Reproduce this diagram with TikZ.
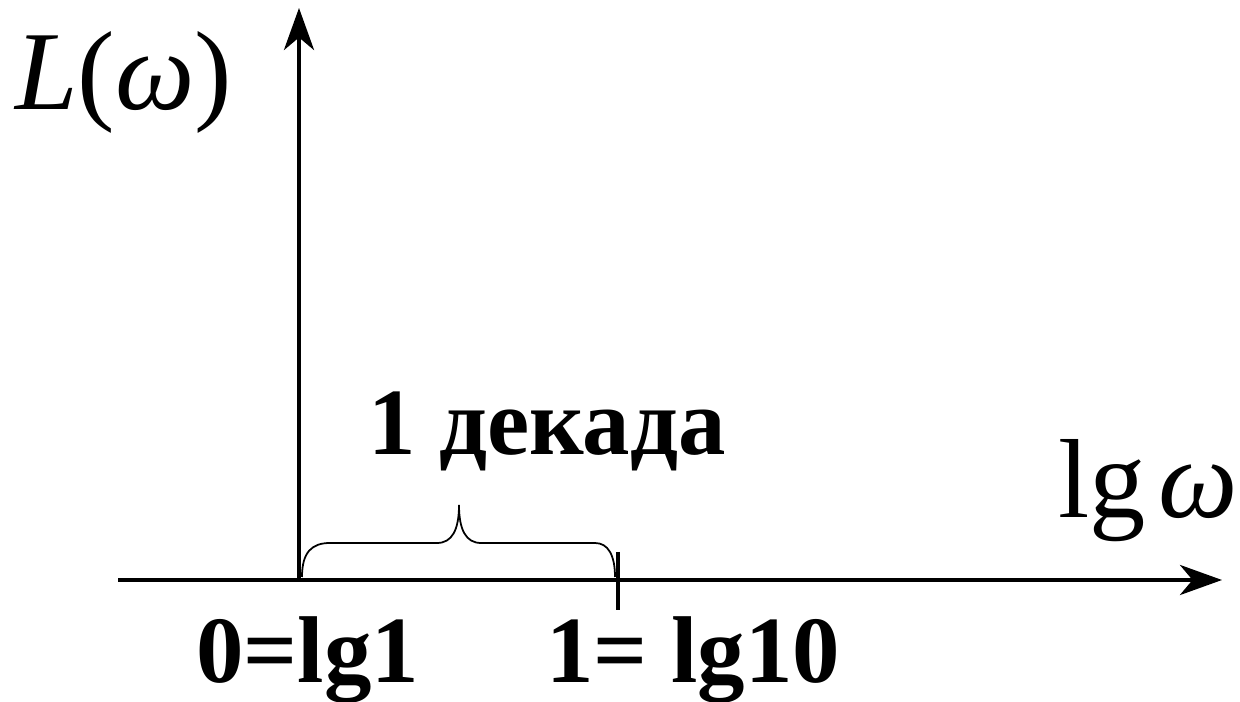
\documentclass[tikz,border=0pt]{standalone}
\usepackage{fontspec}
\setmainfont{Liberation Serif}
\usetikzlibrary{arrows.meta}

\begin{document}
\begin{tikzpicture}[x=0.02cm, y=0.02cm,
  ax/.style={line width=2.6pt, -{Stealth[length=0.84cm, width=0.6cm, inset=0.25cm]}},
  lbl/.style={anchor=base west, inner sep=0pt, font=\fontsize{64}{70}\selectfont},
  blbl/.style={anchor=base west, inner sep=0pt, font=\fontsize{54}{60}\selectfont\bfseries}]
\useasboundingbox (0,0) rectangle (1240,702);
\coordinate (O) at (299,122);
\coordinate (X0) at (118,122);
\coordinate (X1) at (1222,122);
\coordinate (Y1) at (299,694);
\coordinate (T0) at (618,150);
\coordinate (T1) at (618,92);
\draw[ax] (X0) -- (X1);
\draw[ax] (O) -- (Y1);
\draw[line width=2.4pt] (T0) -- (T1);
\draw[line width=1pt] (302,125) .. controls (302,150) and (312,159) .. (330,159) -- (437,159)
  .. controls (452,159) and (459,172) .. (459,197) .. controls (459,172) and (466,159) .. (481,159)
  -- (595,159) .. controls (608,159) and (615,147) .. (615,125);
\node[lbl] (Lw) at (15,592) {\textit{L}(\textit{ω})};
\node[lbl] (lgw) at (1058,184) {lg\kern7pt\textit{ω}};
\node[blbl] (dec) at (368,247) {1 декада};
\node[blbl] (lgone) at (196,19) {0=lg1};
\node[blbl] (lgten) at (546,19) {1= lg10};
\end{tikzpicture}
\end{document}
